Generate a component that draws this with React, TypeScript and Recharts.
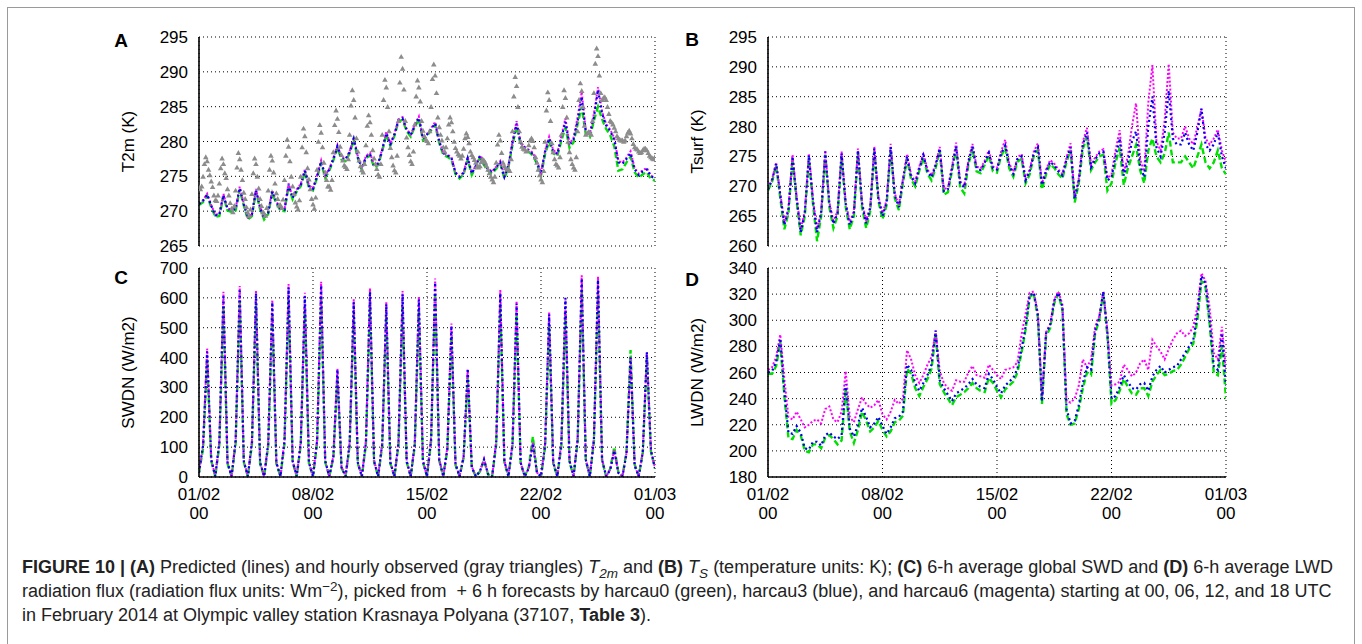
import React from 'react'
import { ComposedChart, Line, Scatter, XAxis, YAxis, CartesianGrid } from 'recharts'

// time axis in days since 01/02 00 UTC
const DAY_TICKS = [0, 7, 14, 21, 28]
const DAY_LABELS = ['01/02', '08/02', '15/02', '22/02', '01/03']
const DAY_MINOR = Array.from({ length: 29 }, (_, i) => i)
const STEPS_6H = Array.from({ length: 113 }, (_, i) => i / 4)
const STEPS_2H = Array.from({ length: 337 }, (_, i) => i / 12)

// (A) T2m, K
const t2mGreen = [270.9,271.3,272.2,270.6, 269.2,269.3,272.1,270.1, 269.9,270.1,273.1,270.8, 268.8,269.3,272.8,270.3, 268.8,269.6,272.6,271.1, 270.1,270.0,273.6,271.7, 272.8,273.6,275.6,273.4, 273.0,274.8,276.9,274.8, 275.8,277.3,279.1,277.4, 277.2,278.3,280.2,277.6, 275.9,277.6,278.0,276.3, 276.6,278.6,281.0,279.4, 280.8,282.9,283.1,281.5, 280.7,282.1,283.2,280.2, 280.8,281.6,282.4,279.8, 278.1,277.8,277.4,275.3, 274.7,275.3,277.4,275.2, 276.3,277.7,276.6,275.8, 275.4,276.1,276.8,274.7, 276.3,279.5,282.2,279.5, 278.9,278.5,278.0,276.8, 275.1,278.2,280.0,278.3, 277.9,280.1,282.0,279.1, 279.9,282.5,285.0,281.0, 280.6,283.0,285.0,283.2, 281.8,280.9,279.3,275.8, 276.0,277.0,277.8,275.6, 274.8,275.3,275.6,274.6, 274.4]
const t2mBlue = [271.0,271.5,272.4,270.8, 269.4,269.5,272.3,270.3, 270.1,270.3,273.3,271.0, 269.0,269.5,273.0,270.5, 269.0,269.8,272.8,271.3, 270.3,270.2,273.8,271.9, 273.0,273.8,275.8,273.6, 273.2,275.0,277.1,275.0, 276.0,277.5,279.3,277.6, 277.4,278.5,280.4,277.8, 276.1,277.8,278.2,276.5, 276.8,278.8,281.2,279.6, 281.0,283.1,283.3,281.7, 280.9,282.3,283.4,280.4, 281.0,281.8,282.6,280.0, 278.3,278.0,277.6,275.5, 274.9,275.5,277.6,275.4, 276.5,277.9,276.8,276.0, 275.6,276.3,277.0,274.9, 276.5,279.8,282.6,279.8, 279.1,278.7,278.2,277.0, 275.4,278.5,280.4,278.6, 278.2,280.5,282.8,279.5, 280.3,283.0,286.4,281.4, 281.0,283.5,287.4,284.0, 282.3,281.5,280.3,277.0, 276.8,277.5,278.3,276.0, 275.2,275.7,276.0,275.0, 274.7]
const t2mMagenta = [271.1,271.6,272.5,270.9, 269.5,269.6,272.5,270.4, 270.2,270.4,273.5,271.1, 269.1,269.6,273.2,270.6, 269.1,269.9,273.0,271.4, 270.4,270.3,274.0,272.0, 273.1,273.9,276.0,273.7, 273.3,275.1,277.3,275.1, 276.1,277.6,279.5,277.7, 277.5,278.6,280.6,277.9, 276.2,277.9,278.4,276.6, 276.9,278.9,281.4,279.7, 281.1,283.2,283.5,281.8, 281.0,282.4,283.6,280.5, 281.1,281.9,282.8,280.1, 278.4,278.1,277.8,275.6, 275.0,275.6,277.8,275.5, 276.6,278.0,277.0,276.1, 275.7,276.4,277.2,275.0, 276.6,280.0,282.9,279.9, 279.2,278.8,278.4,277.1, 275.5,278.7,280.7,278.8, 278.3,280.8,283.3,279.7, 280.5,283.5,287.1,281.6, 281.2,284.0,287.8,284.3, 282.5,281.7,280.5,277.2, 277.0,277.7,278.6,276.2, 275.4,275.9,276.2,275.1, 274.8]
// observed T2m, every 2 h (one row per day)
const t2mObs = [
  273.5,273.2,273.6,275.0,276.8,277.8,277.2,276.0,275.2,274.3,273.5,272.3,
  271.6,271.5,272.3,274.0,276.2,277.6,276.8,275.5,274.8,273.2,272.3,271.2,
  270.4,269.9,270.8,273.0,276.3,278.4,277.5,276.0,274.5,272.7,271.8,270.6,
  269.8,269.3,270.3,272.5,275.5,277.6,276.8,275.0,273.3,271.8,270.8,269.9,
  269.7,269.4,270.5,273.0,276.0,278.0,277.3,275.6,274.0,272.6,271.8,270.9,
  270.9,270.5,271.7,274.5,278.0,280.3,279.3,277.2,275.0,273.6,272.5,271.3,
  270.7,270.3,271.6,275.0,279.2,281.9,280.8,278.5,276.2,274.6,273.2,271.8,
  271.0,270.4,272.0,276.0,280.0,282.4,281.3,279.2,277.0,275.6,274.5,273.6,
  273.6,273.1,274.5,278.5,282.4,284.5,283.3,281.4,279.3,278.1,277.3,276.6,
  276.4,276.1,277.5,281.0,285.2,287.4,286.0,283.5,280.5,278.6,277.3,276.5,
  275.9,275.6,276.8,279.5,282.3,283.8,282.8,281.0,278.8,277.6,276.8,276.1,
  275.3,275.0,276.8,281.0,286.0,288.9,287.8,285.0,281.5,279.1,277.8,276.6,
  275.9,275.6,278.0,283.0,288.5,292.2,290.5,287.5,283.0,280.6,279.2,278.1,
  277.2,276.8,278.6,282.5,286.5,288.8,287.8,285.8,283.0,281.6,280.8,280.3,
  280.1,279.8,281.5,285.0,289.0,291.1,289.5,287.0,283.5,282.1,281.0,280.2,
  279.2,278.6,279.2,280.5,282.5,283.5,282.8,281.5,280.0,279.1,278.6,278.2,
  278.0,277.6,278.0,279.0,280.5,281.2,280.7,279.8,278.6,278.1,277.8,277.4,
  277.0,276.5,276.3,276.5,277.1,277.5,277.3,277.0,276.5,276.0,275.5,275.0,
  274.6,274.2,275.0,277.0,279.6,281.0,280.2,278.4,277.0,276.5,276.2,276.0,
  276.1,275.8,277.5,281.5,286.5,289.3,288.0,285.0,281.5,280.0,279.3,279.0,
  278.9,278.6,278.7,279.5,280.2,280.5,280.1,279.2,277.8,277.0,276.0,275.2,
  274.6,274.2,275.8,280.0,284.5,287.1,286.0,283.0,279.8,278.5,277.5,276.8,
  276.6,276.3,277.8,281.0,285.0,287.4,286.3,283.5,280.0,278.5,277.5,276.8,
  276.3,276.0,277.8,281.5,286.0,288.4,287.3,285.0,282.3,281.0,281.2,281.4,
  281.3,281.0,283.0,287.0,291.2,293.4,292.3,289.5,287.0,286.0,286.3,286.4,
  286.0,285.0,284.0,283.0,282.8,282.5,282.0,281.5,280.8,280.5,280.3,280.2,
  280.2,280.0,280.2,280.8,281.3,281.6,281.2,280.5,279.7,279.2,279.0,278.9,
  278.6,278.4,278.5,278.8,279.0,279.0,278.8,278.4,278.0,277.8,277.6,277.5,
  277.8]

// (B) Tsurf, K
const tsGreen = [269.3,270.8,273.5,268.0, 262.8,265.5,274.6,267.5, 261.8,265.0,274.8,267.0, 260.8,265.0,275.3,266.5, 263.0,265.0,275.0,266.5, 262.8,265.0,275.6,266.5, 263.0,265.8,275.9,267.5, 264.5,266.8,276.2,268.0, 266.0,270.6,274.6,271.2, 270.0,272.6,274.8,272.1, 271.0,273.1,275.9,268.6, 269.0,272.6,276.3,269.8, 268.8,273.6,276.3,272.5, 272.2,273.6,275.2,272.5, 272.3,275.1,276.4,273.0, 271.6,274.1,274.6,270.5, 272.0,275.1,276.1,269.5, 272.0,273.7,273.1,272.0, 271.3,274.1,276.1,267.3, 270.5,276.3,278.3,272.7, 274.0,275.0,275.3,269.3, 270.5,274.0,276.5,270.2, 273.0,275.0,276.9,272.7, 270.5,276.0,278.0,275.0, 274.0,275.5,279.0,274.0, 274.0,274.0,275.0,274.0, 273.0,275.0,277.0,274.0, 273.0,274.0,276.0,273.0, 272.0]
const tsBlue = [269.5,271.0,273.8,268.5, 263.5,266.0,275.0,268.0, 262.3,265.5,275.2,267.5, 262.3,265.5,275.8,267.0, 263.7,265.5,275.5,267.0, 263.5,265.5,276.0,267.0, 263.8,266.3,276.3,268.0, 265.0,267.3,276.6,268.5, 266.5,271.0,275.0,271.6, 270.5,273.0,275.2,272.5, 271.5,273.5,276.3,269.2, 269.5,273.0,276.7,270.5, 269.8,274.0,276.7,273.0, 272.7,274.0,275.6,273.0, 272.8,275.5,276.8,273.5, 272.1,274.5,275.0,271.0, 272.5,275.5,276.5,270.2, 272.5,274.1,273.5,272.5, 271.8,274.5,276.5,267.9, 271.0,277.0,279.0,273.2, 274.5,275.5,275.8,271.0, 271.5,275.0,278.0,271.8, 274.0,277.5,279.2,273.5, 271.5,280.0,285.0,276.5, 275.0,279.0,286.0,278.0, 277.0,277.0,279.0,277.0, 276.0,279.0,283.0,277.0, 276.0,277.0,279.0,275.0, 273.0]
const tsMagenta = [269.7,271.2,274.0,268.8, 264.0,266.3,275.3,268.3, 262.8,265.8,275.5,267.8, 262.8,265.8,276.0,267.3, 264.2,265.8,275.8,267.3, 264.0,265.8,276.3,267.3, 264.3,266.6,276.6,268.3, 265.5,267.6,277.1,268.8, 266.8,271.3,275.4,271.9, 270.8,273.3,275.6,272.8, 271.8,273.8,276.6,269.5, 269.8,273.3,277.3,270.8, 270.1,274.3,277.1,273.3, 273.0,274.3,276.0,273.3, 273.1,275.8,277.8,273.8, 272.4,274.8,275.4,271.3, 272.8,275.8,277.2,270.5, 272.8,274.4,273.8,272.8, 272.1,274.8,277.2,268.3, 271.3,277.5,279.8,273.6, 274.8,275.8,276.2,271.4, 272.0,276.0,279.4,272.3, 275.0,280.0,283.9,274.5, 272.5,284.0,290.3,277.5, 276.0,281.0,290.5,279.0, 278.0,278.0,280.0,278.0, 277.0,280.0,283.0,278.0, 277.0,278.0,279.5,276.0, 274.0]

// (C) SWDN, W/m2
const swGreen = [15,95,395,55, 2,108,570,45, 2,112,590,50, 2,108,575,45, 2,104,545,45, 2,112,595,50, 2,108,568,45, 2,112,600,50, 2,64,335,30, 2,104,548,45, 2,108,580,50, 2,104,540,45, 2,108,573,50, 2,104,556,50, 2,118,612,55, 2,90,473,40, 2,64,335,30, 2,18,56,9, 2,108,576,50, 2,104,543,45, 2,34,135,17, 2,98,509,45, 2,104,547,50, 2,118,622,55, 2,118,617,55, 2,27,100,16, 2,86,425,42, 2,80,400,85, 28]
const swBlue = [15,105,420,58, 2,115,610,48, 2,120,630,53, 2,115,615,48, 2,110,585,48, 2,120,635,53, 2,115,605,48, 2,120,642,53, 2,68,360,33, 2,110,585,48, 2,115,620,53, 2,110,578,48, 2,115,612,53, 2,110,594,53, 2,125,652,58, 2,96,506,43, 2,68,363,33, 2,19,58,9, 2,115,615,53, 2,110,580,48, 2,29,112,14, 2,105,544,48, 2,112,600,53, 2,125,665,58, 2,125,660,58, 2,24,88,14, 2,78,400,38, 2,83,418,88, 30]
const swMagenta = [15,110,430,60, 2,120,620,50, 2,125,640,55, 2,120,626,50, 2,115,593,50, 2,125,646,55, 2,120,617,50, 2,125,654,55, 2,70,363,35, 2,115,595,50, 2,120,632,55, 2,115,587,50, 2,120,623,55, 2,115,604,55, 2,130,665,60, 2,100,514,45, 2,70,360,35, 2,20,61,10, 2,120,626,55, 2,115,590,50, 2,30,115,15, 2,110,553,50, 2,115,595,55, 2,130,676,60, 2,130,671,60, 2,25,90,15, 2,80,402,40, 2,85,419,90, 30]

// (D) LWDN, W/m2
const lwGreen = [259,259,265,283, 242,210,209,216, 212,200,199,205, 205,202,210,212, 209,205,208,248, 215,206,216,230, 223,215,218,223, 216,211,215,222, 223,227,263,259, 248,242,249,255, 263,290,251,245, 240,235,241,243, 245,248,252,248, 246,245,256,252, 246,241,247,250, 253,260,275,293, 318,320,302,236, 288,294,313,320, 308,228,220,221, 232,248,260,258, 290,300,321,288, 236,239,246,255, 249,244,243,248, 248,242,253,258, 262,258,259,261, 262,266,272,278, 282,300,330,325, 297,260,258,280, 240]
const lwBlue = [260,261,268,286, 245,214,213,219, 214,202,201,207, 207,204,212,214, 211,209,212,251, 217,211,220,233, 226,218,221,226, 219,213,218,225, 226,230,266,262, 252,246,252,258, 266,292,254,248, 243,238,244,246, 248,251,255,251, 249,248,259,255, 249,244,250,253, 256,263,278,295, 319,321,304,238, 290,296,315,321, 310,232,221,223, 235,252,264,262, 292,302,322,290, 240,242,249,258, 253,248,247,251, 252,246,257,262, 265,260,262,264, 265,270,275,280, 285,305,334,328, 300,265,262,290, 250]
const lwMagenta = [262,264,272,289, 255,226,224,230, 224,218,220,223, 224,221,232,234, 224,222,230,261, 226,222,232,241, 236,233,235,239, 228,224,230,239, 236,240,277,270, 258,252,258,266, 272,292,261,252, 248,246,254,253, 253,260,265,258, 257,256,266,262, 258,255,262,263, 264,268,289,305, 321,322,305,240, 291,297,316,322, 312,238,237,240, 250,270,264,270, 295,303,322,292, 250,251,253,266, 262,257,260,267, 270,262,285,280, 276,270,278,285, 290,292,288,290, 295,310,336,330, 310,275,270,295, 262]

const FONT = "'Liberation Sans', Arial, Helvetica, sans-serif"
const AXIS_LINE = { stroke: '#000', strokeWidth: 1.6 }

function DateTick(props: any) {
  const { x, y, payload } = props
  const i = DAY_TICKS.indexOf(payload.value)
  return (
    <text x={x} y={y} textAnchor="middle" fontSize={17} fill="#000" fontFamily={FONT}>
      <tspan x={x} dy={23}>{DAY_LABELS[i]}</tspan>
      <tspan x={x} dy={19}>00</tspan>
    </text>
  )
}

function Triangle(props: any) {
  const { cx, cy } = props
  if (cx == null || cy == null) return null
  return <polygon points={`${cx - 2.8},${cy + 2.3} ${cx + 2.8},${cy + 2.3} ${cx},${cy - 2.6}`} fill="#8c8c8c" />
}

type PanelProps = {
  x0: number
  y0: number
  w: number
  h: number
  domain: [number, number]
  ticks: number[]
  green: number[]
  blue: number[]
  magenta: number[]
  obs?: number[]
  dates?: boolean
}

function Panel({ x0, y0, w, h, domain, ticks, green, blue, magenta, obs, dates }: PanelProps) {
  const padL = 70
  const padT = 10
  const padR = 30
  const padB = dates ? 52 : 10
  const rows = STEPS_6H.map((t, i) => ({ t, g: green[i], b: blue[i], m: magenta[i] }))
  const obsRows = obs ? STEPS_2H.map((t, i) => ({ t, o: obs[i] })) : []
  return (
    <div style={{ position: 'absolute', left: x0 - padL, top: y0 - padT }}>
      <ComposedChart
        width={w + padL + padR}
        height={h + padT + padB}
        data={rows}
        margin={{ top: padT, right: padR, left: 0, bottom: dates ? 0 : padB }}
      >
        <CartesianGrid stroke="#000" strokeDasharray="1 3" strokeWidth={1} />
        <XAxis
          dataKey="t"
          type="number"
          domain={[0, 28]}
          ticks={DAY_TICKS}
          interval={0}
          allowDataOverflow
          axisLine={AXIS_LINE}
          tickLine={false}
          tickSize={0}
          tickMargin={0}
          height={dates ? padB : 0}
          tick={dates ? <DateTick /> : false}
        />
        <XAxis xAxisId="bottomTicks" dataKey="t" type="number" domain={[0, 28]} ticks={DAY_MINOR} interval={0}
          orientation="bottom" mirror height={0} axisLine={false} tick={false} tickSize={5}
          tickLine={{ stroke: '#000', strokeWidth: 1.3 }} />
        <XAxis xAxisId="topTicks" dataKey="t" type="number" domain={[0, 28]} ticks={DAY_MINOR} interval={0}
          orientation="top" mirror height={0} axisLine={AXIS_LINE} tick={false} tickSize={5}
          tickLine={{ stroke: '#000', strokeWidth: 1.3 }} />
        <YAxis
          type="number"
          domain={domain}
          ticks={ticks}
          interval={0}
          allowDataOverflow
          width={padL}
          axisLine={AXIS_LINE}
          tickLine={false}
          tickSize={0}
          tickMargin={11}
          tick={{ fontSize: 17, fill: '#000', fontFamily: FONT }}
        />
        <YAxis yAxisId="right" orientation="right" mirror width={0} type="number" domain={domain}
          axisLine={AXIS_LINE} tick={false} tickLine={false} />
        {obs && <Scatter data={obsRows} dataKey="o" shape={<Triangle />} isAnimationActive={false} />}
        <Line type="linear" dataKey="g" stroke="#00e000" strokeWidth={2.4} strokeDasharray="6 3"
          dot={false} activeDot={false} isAnimationActive={false} />
        <Line type="linear" dataKey="m" stroke="#ff00ff" strokeWidth={2} strokeDasharray="2 2"
          dot={false} activeDot={false} isAnimationActive={false} />
        <Line type="linear" dataKey="b" stroke="#0000ee" strokeWidth={2.2} strokeDasharray="2 3"
          dot={false} activeDot={false} isAnimationActive={false} />
      </ComposedChart>
    </div>
  )
}

function Labels() {
  const letter = { fontSize: 19, fontWeight: 700, fill: '#000', fontFamily: FONT, textAnchor: 'middle' as const }
  const title = { fontSize: 17, fill: '#000', fontFamily: FONT, textAnchor: 'middle' as const, dominantBaseline: 'central' as const }
  return (
    <svg width={1362} height={644} style={{ position: 'absolute', left: 0, top: 0, pointerEvents: 'none' }}>
      <text x={121} y={47} {...letter}>A</text>
      <text x={692} y={46} {...letter}>B</text>
      <text x={121} y={284} {...letter}>C</text>
      <text x={692} y={286} {...letter}>D</text>
      <text transform="translate(128,141.5) rotate(-90)" {...title}>T2m (K)</text>
      <text transform="translate(697,141.5) rotate(-90)" {...title}>Tsurf (K)</text>
      <text transform="translate(128,372.5) rotate(-90)" {...title}>SWDN (W/m2)</text>
      <text transform="translate(697,372.5) rotate(-90)" {...title}>LWDN (W/m2)</text>
    </svg>
  )
}

const sub: React.CSSProperties = { fontSize: '0.75em', position: 'relative', top: '0.35em', lineHeight: 0 }
const sup: React.CSSProperties = { fontSize: '0.75em', position: 'relative', top: '-0.45em', lineHeight: 0 }

function Caption() {
  const line: React.CSSProperties = {
    position: 'absolute', left: 22, fontSize: 18, lineHeight: '24px', fontFamily: FONT, color: '#222', whiteSpace: 'nowrap',
  }
  return (
    <>
      <div style={{ ...line, top: 555 }}>
        <b>FIGURE 10 | (A)</b> Predicted (lines) and hourly observed (gray triangles) <i>T</i><i style={sub}>2m</i> and <b>(B)</b>{' '}
        <i>T</i><i style={sub}>S</i> (temperature units: K); <b>(C)</b> 6-h average global SWD and <b>(D)</b> 6-h average LWD
      </div>
      <div style={{ ...line, top: 579 }}>
        radiation flux (radiation flux units: Wm<span style={sup}>−2</span>), picked from &nbsp;+ 6 h forecasts by harcau0 (green),
        harcau3 (blue), and harcau6 (magenta) starting at 00, 06, 12, and 18 UTC
      </div>
      <div style={{ ...line, top: 603 }}>
        in February 2014 at Olympic valley station Krasnaya Polyana (37107, <b>Table 3</b>).
      </div>
    </>
  )
}

export default function App() {
  return (
    <div style={{ position: 'relative', width: 1362, height: 644, overflow: 'hidden', background: '#fff' }}>
      <style>{'body{margin:0}'}</style>
      <div style={{ position: 'absolute', left: 7, top: 7, width: 1346, height: 700, border: '1.5px solid #9a9a9a' }} />
      <Panel x0={199} y0={37} w={456} h={209} domain={[265, 295]} ticks={[265, 270, 275, 280, 285, 290, 295]}
        green={t2mGreen} blue={t2mBlue} magenta={t2mMagenta} obs={t2mObs} />
      <Panel x0={768} y0={37} w={458} h={209} domain={[260, 295]} ticks={[260, 265, 270, 275, 280, 285, 290, 295]}
        green={tsGreen} blue={tsBlue} magenta={tsMagenta} />
      <Panel x0={199} y0={268} w={456} h={209} domain={[0, 700]} ticks={[0, 100, 200, 300, 400, 500, 600, 700]}
        green={swGreen} blue={swBlue} magenta={swMagenta} dates />
      <Panel x0={768} y0={268} w={458} h={209} domain={[180, 340]} ticks={[180, 200, 220, 240, 260, 280, 300, 320, 340]}
        green={lwGreen} blue={lwBlue} magenta={lwMagenta} dates />
      <Labels />
      <Caption />
    </div>
  )
}
